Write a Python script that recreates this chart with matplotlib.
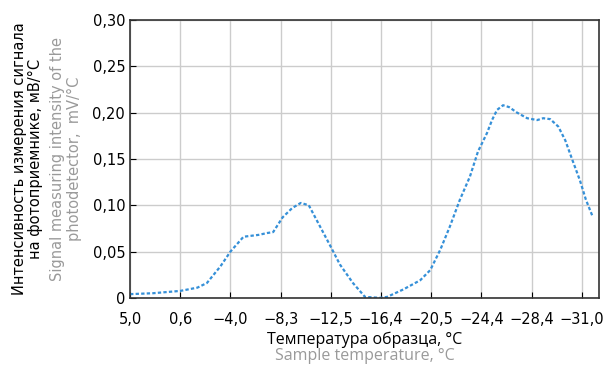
import matplotlib.pyplot as plt

tick_labels = ["5,0", "0,6", "−4,0", "−8,3", "−12,5", "−16,4", "−20,5", "−24,4", "−28,4", "−31,0"]
x_pos = [0.0, 0.46, 1.0, 1.34, 1.53, 1.8, 2.0, 2.26, 2.56, 2.73, 2.85, 3.04, 3.23, 3.4, 3.56,
         3.98, 4.18, 4.44, 4.68, 4.98, 5.12, 5.44, 5.78, 5.98, 6.18, 6.37, 6.57, 6.77, 6.93,
         7.11, 7.21, 7.31, 7.43, 7.55, 7.71, 7.91, 8.11, 8.23, 8.37, 8.53, 8.67, 8.81, 8.96,
         9.08, 9.22]
signal = [0.004, 0.005, 0.0075, 0.011, 0.016, 0.034, 0.050, 0.066, 0.068, 0.070, 0.071, 0.087,
          0.097, 0.1025, 0.100, 0.057, 0.036, 0.016, 0.001, 0.0, 0.001, 0.009, 0.019, 0.030,
          0.052, 0.077, 0.106, 0.131, 0.158, 0.178, 0.192, 0.203, 0.208, 0.206, 0.200, 0.194,
          0.192, 0.194, 0.193, 0.185, 0.170, 0.149, 0.127, 0.106, 0.087]
y_ticks = [0, 0.05, 0.10, 0.15, 0.20, 0.25, 0.30]
y_labels = ["0", "0,05", "0,10", "0,15", "0,20", "0,25", "0,30"]

plt.rcParams['font.family'] = ['DejaVu Sans']
fig = plt.figure(figsize=(6.05, 3.65), dpi=100)
ax = fig.add_axes([0.215, 0.184, 0.775, 0.761])

ax.plot(x_pos, signal, color='#3590d8', linewidth=1.6, dashes=(1.5, 1.0))

ax.set_xlim(0, 9.34)
ax.set_ylim(0, 0.30)
ax.set_xticks(range(len(tick_labels)))
ax.set_xticklabels(tick_labels)
ax.set_yticks(y_ticks)
ax.set_yticklabels(y_labels)
ax.tick_params(direction='in', length=4, labelsize=10.5, color='black')
ax.tick_params(axis='x', pad=10)
ax.grid(True, color='#cccccc', linewidth=1)
for s in ax.spines.values():
    s.set_color('#333333')
    s.set_linewidth(1.2)

fig.text(0.046, 0.565, "Интенсивность измерения сигнала\nна фотоприемнике, мВ/°C",
         rotation=90, ha='center', va='center', fontsize=10.5, linespacing=1.1)
fig.text(0.109, 0.565, "Signal measuring intensity of the\nphotodetector,  mV/°C",
         rotation=90, ha='center', va='center', fontsize=10.5, color='#9a9a9a', linespacing=1.1)
fig.text(0.603, 0.07, "Температура образца, °C", ha='center', va='center', fontsize=11.5,
         family=['Open Sans', 'DejaVu Sans'])
fig.text(0.603, 0.024, "Sample temperature, °C", ha='center', va='center', fontsize=11.5,
         color='#9a9a9a', family=['Open Sans', 'DejaVu Sans'])

fig.savefig('out.png', dpi=100)
